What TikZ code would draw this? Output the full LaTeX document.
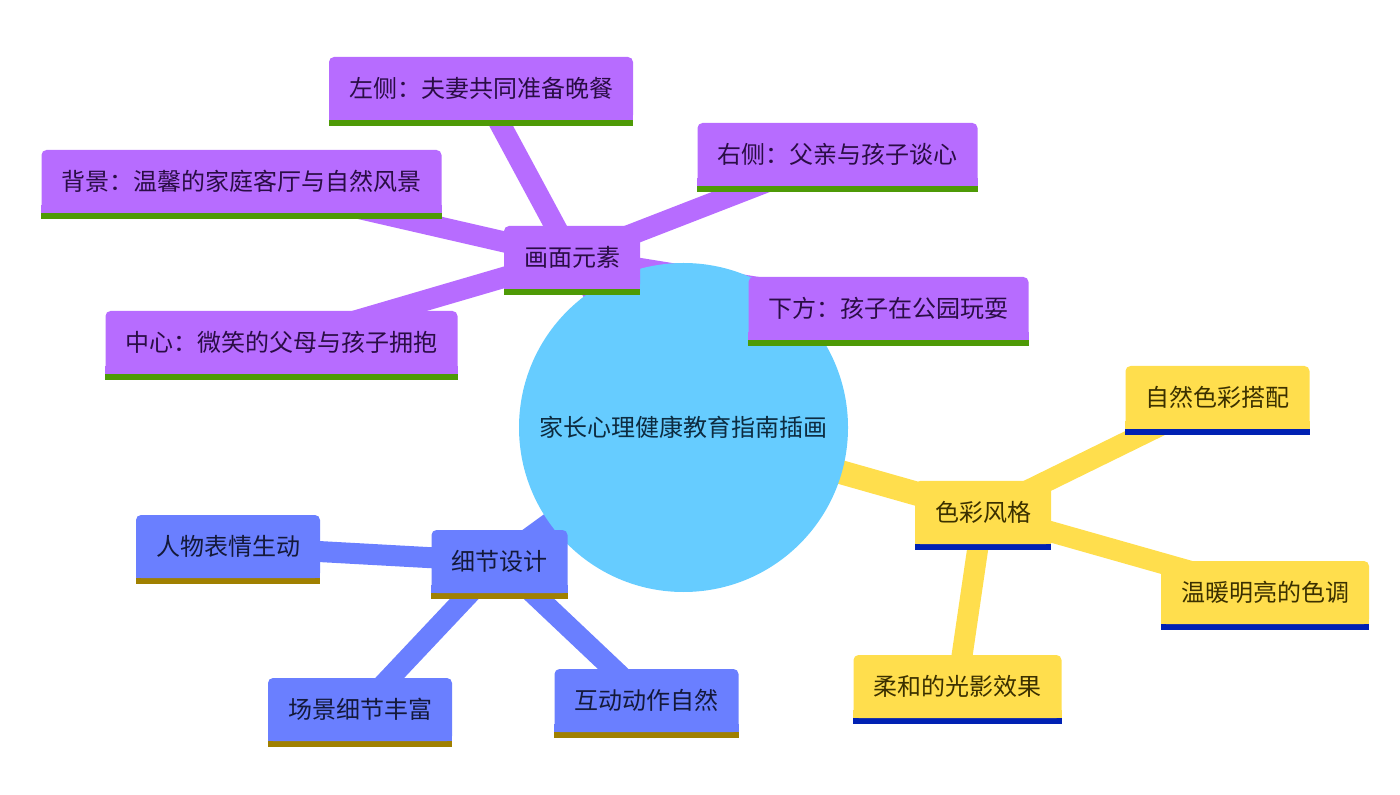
\documentclass[tikz,border=0pt]{standalone}
\usepackage{fontspec}
\newfontfamily\cjk{Noto Sans CJK SC}
\usetikzlibrary{calc}
\pgfdeclarelayer{edges}
\pgfsetlayers{edges,main}
\definecolor{purp}{HTML}{B76CFF}
\definecolor{purpbar}{HTML}{4E9A06}
\definecolor{purptxt}{HTML}{2A0D45}
\definecolor{yell}{HTML}{FFDE4D}
\definecolor{yellbar}{HTML}{0021B3}
\definecolor{yelltxt}{HTML}{3B3000}
\definecolor{peri}{HTML}{6A7FFF}
\definecolor{peribar}{HTML}{A08000}
\definecolor{peritxt}{HTML}{14193A}
\definecolor{sky}{HTML}{66CCFF}
\definecolor{skytxt}{HTML}{0D2B40}
\tikzset{
  box/.style n args={3}{rectangle, rounded corners=2.5pt, fill=#1, text=#3,
    inner xsep=10pt, inner ysep=0pt, minimum height=31.5pt,
    font=\cjk\fontsize{12pt}{14pt}\selectfont,
    append after command={\pgfextra{
      \fill[#1, sharp corners] ($(\tikzlastnode.south west)+(0,4pt)$) rectangle (\tikzlastnode.south east);
      \fill[#2, sharp corners] (\tikzlastnode.south west) rectangle ($(\tikzlastnode.south east)+(0,-2.75pt)$);
    }}},
  pbox/.style={box={purp}{purpbar}{purptxt}},
  ybox/.style={box={yell}{yellbar}{yelltxt}},
  bbox/.style={box={peri}{peribar}{peritxt}},
  mainedge/.style={line width=12pt},
  subedge/.style={line width=10.5pt}
}
\begin{document}
\begin{tikzpicture}[x=0.5pt,y=-0.5pt]
\useasboundingbox (0,0) rectangle (1400,795);
\node[circle, fill=sky, minimum size=164.5pt, inner sep=0pt, text=skytxt,
  font=\cjk\fontsize{12pt}{14pt}\selectfont] (root) at (683.5,427.5) {家长心理健康教育指南插画};
% purple section
\node[pbox] (p0) at (572,257.5) {画面元素};
\node[pbox] (p1) at (481,88.5) {左侧：夫妻共同准备晚餐};
\node[pbox] (p2) at (837.5,154.5) {右侧：父亲与孩子谈心};
\node[pbox] (p3) at (241.5,181.5) {背景：温馨的家庭客厅与自然风景};
\node[pbox] (p4) at (281.5,342.5) {中心：微笑的父母与孩子拥抱};
\node[pbox] (p5) at (888.5,308.5) {下方：孩子在公园玩耍};
% yellow section
\node[ybox] (y0) at (983,512.5) {色彩风格};
\node[ybox] (y1) at (1217.5,397.5) {自然色彩搭配};
\node[ybox] (y2) at (1265,592.5) {温暖明亮的色调};
\node[ybox] (y3) at (957.5,686.5) {柔和的光影效果};
% blue section
\node[bbox] (b0) at (499.5,561.5) {细节设计};
\node[bbox] (b1) at (228,546.5) {人物表情生动};
\node[bbox] (b2) at (360,709.5) {场景细节丰富};
\node[bbox] (b3) at (646.5,700.5) {互动动作自然};
\begin{pgfonlayer}{edges}
\draw[mainedge, purp] (root.center) -- (p0.center);
\draw[mainedge, yell] (root.center) -- (y0.center);
\draw[mainedge, peri] (root.center) -- (b0.center);
\foreach \n in {p1,p2,p3,p4,p5} \draw[subedge, purp] (p0.center) -- (\n.center);
\foreach \n in {y1,y2,y3} \draw[subedge, yell] (y0.center) -- (\n.center);
\foreach \n in {b1,b2,b3} \draw[subedge, peri] (b0.center) -- (\n.center);
\end{pgfonlayer}
\end{tikzpicture}
\end{document}
